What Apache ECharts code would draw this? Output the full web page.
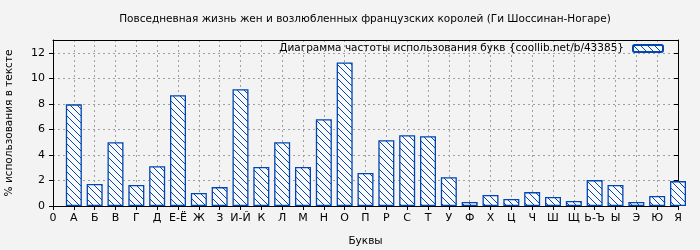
<!DOCTYPE html>
<html><head><meta charset="utf-8">
<script src="https://cdn.jsdelivr.net/npm/echarts@6/dist/echarts.min.js"></script>
<style>html,body{margin:0;padding:0;background:#f3f3f3;}#c{width:700px;height:250px;}</style>
</head><body><div id="c"></div>
<script>
const titleText = 'Повседневная жизнь жен и возлюбленных французских королей (Ги Шоссинан-Ногаре)';
const seriesName = 'Диаграмма частоты использования букв {coollib.net/b/43385}';
const tickLabels = ['0','А','Б','В','Г','Д','Е-Ё','Ж','З','И-Й','К','Л','М','Н','О','П','Р','С','Т','У','Ф','Х','Ц','Ч','Ш','Щ','Ь-Ъ','Ы','Э','Ю','Я'];
const letters = tickLabels.slice(1);
const values = [7.96,1.72,5.00,1.64,3.12,8.67,1.02,1.48,9.14,3.05,5.00,3.05,6.79,11.24,2.58,5.15,5.54,5.47,2.26,0.31,0.86,0.55,1.09,0.70,0.39,2.03,1.64,0.31,0.78,1.95];
const yTicks = [0,2,4,6,8,10,12];

const blue = '#0046b4';
function makePattern(){
  const s = 7;
  const cv = document.createElement('canvas');
  cv.width = s; cv.height = s;
  const g = cv.getContext('2d');
  g.fillStyle = '#fafafa';
  g.fillRect(0,0,s,s);
  g.strokeStyle = blue;
  g.lineWidth = 1;
  g.beginPath();
  g.moveTo(-1,-1); g.lineTo(s+1,s+1);
  g.moveTo(-1,s-1); g.lineTo(1,s+1);
  g.moveTo(s-1,-1); g.lineTo(s+1,1);
  g.stroke();
  return cv;
}
const pattern = {image: makePattern(), repeat: 'repeat'};

const font = 'DejaVu Sans';
const chart = echarts.init(document.getElementById('c'), null, {renderer:'canvas'});
const dash = {color:'#a0a0a0', width:1, type:[2,3]};
chart.setOption({
  backgroundColor:'#f3f3f3',
  animation:false,
  textStyle:{fontFamily:font},
  title:{text:titleText, left:365, textAlign:'center', top:14, textStyle:{fontFamily:font, fontSize:10.5, fontWeight:'normal', color:'#000'}, padding:0},
  legend:{data:[seriesName], right:36, top:43, align:'right', itemWidth:30, itemHeight:7, itemGap:8, textStyle:{fontFamily:font, fontSize:10.5, color:'#000', padding:[0,4,0,0]}, padding:0},
  grid:{left:53, right:22, top:40, bottom:44, outerBoundsMode:'none', containLabel:false},
  xAxis:[{
    type:'value', min:0, max:30, interval:1,
    name:'Буквы', nameLocation:'middle', nameGap:30, nameTextStyle:{fontFamily:font, fontSize:10.5, color:'#000'},
    axisLine:{show:true, lineStyle:{color:'#000', width:1}},
    axisTick:{show:true, length:4, lineStyle:{color:'#000'}},
    axisLabel:{show:true, margin:7, fontFamily:font, fontSize:11, color:'#000', formatter:(v)=>tickLabels[Math.round(v)]||''},
    splitLine:{show:true, lineStyle:dash}
  },{
    type:'value', min:0, max:30, position:'top',
    axisLine:{show:true, onZero:false, lineStyle:{color:'#000', width:1}},
    axisTick:{show:false}, axisLabel:{show:false}, splitLine:{show:false}
  }],
  yAxis:[{
    type:'value', min:0, max:13, interval:2,
    name:'% использования в тексте', nameLocation:'middle', nameGap:38, nameRotate:90, nameTextStyle:{fontFamily:font, fontSize:10.5, color:'#000'},
    axisLine:{show:true, lineStyle:{color:'#000', width:1}},
    axisTick:{show:true, length:4, lineStyle:{color:'#000'}},
    axisLabel:{show:true, margin:8, fontFamily:font, fontSize:11, color:'#000', showMaxLabel:false, formatter:(v)=>yTicks.indexOf(v)>=0?String(v):''},
    splitLine:{show:true, lineStyle:dash}
  },{
    type:'value', min:0, max:13, interval:2, position:'right',
    axisLine:{show:true, onZero:false, lineStyle:{color:'#000', width:1}},
    axisTick:{show:true, inside:true, length:4, lineStyle:{color:'#000'}},
    axisLabel:{show:false}, splitLine:{show:false}
  }],
  series:[{
    name:seriesName, type:'bar', xAxisIndex:0, yAxisIndex:0,
    data: values.map((v,i)=>[i+1, v]),
    barWidth:16, clip:true,
    itemStyle:{color:pattern, borderColor:blue, borderWidth:1.3}
  }]
});
</script></body></html>
